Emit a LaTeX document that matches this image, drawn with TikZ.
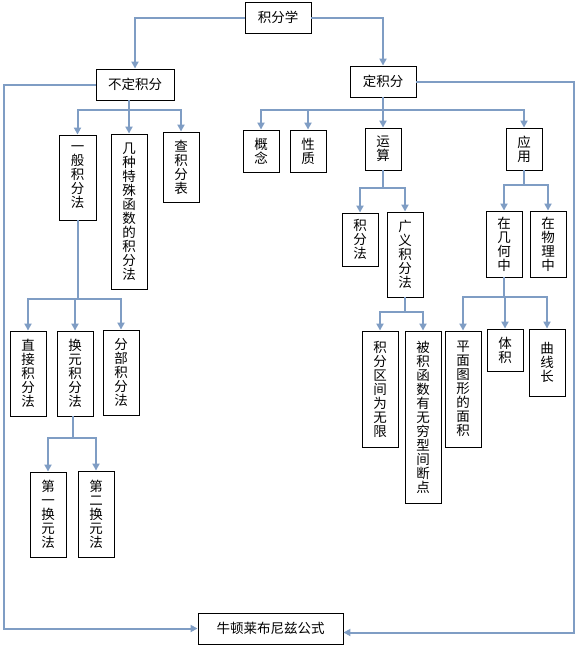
\documentclass[tikz,border=0pt]{standalone}
\usepackage{fontspec}
\setmainfont{Noto Sans CJK SC}
\usetikzlibrary{arrows.meta}
\definecolor{linec}{HTML}{7F9DC4}
\tikzset{
  box/.style={draw=black, line width=0.9pt, fill=white, inner sep=0pt, align=center,
    font=\fontsize{13.5}{14}\selectfont},
  conn/.style={draw=linec, line width=2pt, -{Triangle[length=7pt,width=7pt]}},
  plain/.style={draw=linec, line width=2pt}
}
\begin{document}
\begin{tikzpicture}[x=1pt,y=-1pt]
\useasboundingbox (0,0) rectangle (579,648);
% top
\node[box, minimum width=66pt, minimum height=31pt] (jfx) at (278,17.5) {积分学};
\node[box, minimum width=78pt, minimum height=31pt] (bdjf) at (135,84.5) {不定积分};
\node[box, minimum width=66pt, minimum height=31pt] (djf) at (383,81.5) {定积分};
\node[box, minimum width=145pt, minimum height=31pt] (nd) at (270.5,628.5) {牛顿莱布尼兹公式};
% indefinite
\node[box, minimum width=37pt, minimum height=85pt] (yb) at (77.5,177.5) {一\\般\\积\\分\\法};
\node[box, minimum width=36pt, minimum height=155pt] (jz) at (129,211.5) {几\\种\\特\\殊\\函\\数\\的\\积\\分\\法};
\node[box, minimum width=36pt, minimum height=70pt] (cb) at (181,167) {查\\积\\分\\表};
\node[box, minimum width=36pt, minimum height=85pt] (zj) at (28,373.5) {直\\接\\积\\分\\法};
\node[box, minimum width=36pt, minimum height=85pt] (hy) at (75,373.5) {换\\元\\积\\分\\法};
\node[box, minimum width=36pt, minimum height=85pt] (fb) at (121,372.5) {分\\部\\积\\分\\法};
\node[box, minimum width=36pt, minimum height=85pt] (d1) at (48,514.5) {第\\一\\换\\元\\法};
\node[box, minimum width=36pt, minimum height=86pt] (d2) at (96,514) {第\\二\\换\\元\\法};
% definite
\node[box, minimum width=36pt, minimum height=42pt] (gn) at (261,151) {概\\念};
\node[box, minimum width=36pt, minimum height=42pt] (xz) at (308,151) {性\\质};
\node[box, minimum width=36pt, minimum height=42pt] (ys) at (383,149) {运\\算};
\node[box, minimum width=36pt, minimum height=42pt] (yy) at (524,149) {应\\用};
\node[box, minimum width=36pt, minimum height=53pt] (jff) at (360,239.5) {积\\分\\法};
\node[box, minimum width=36pt, minimum height=85pt] (gy) at (405,254.5) {广\\义\\积\\分\\法};
\node[box, minimum width=36pt, minimum height=66pt] (jh) at (504,244) {在\\几\\何\\中};
\node[box, minimum width=36pt, minimum height=66pt] (wl) at (548,244) {在\\物\\理\\中};
\node[box, minimum width=36pt, minimum height=116pt] (qj) at (380,389) {积\\分\\区\\间\\为\\无\\限};
\node[box, minimum width=36pt, minimum height=172pt] (bj) at (423,417) {被\\积\\函\\数\\有\\无\\穷\\型\\间\\断\\点};
\node[box, minimum width=36pt, minimum height=116pt] (pm) at (463,389) {平\\面\\图\\形\\的\\面\\积};
\node[box, minimum width=36pt, minimum height=42pt] (tj) at (505,350) {体\\积};
\node[box, minimum width=36pt, minimum height=67pt] (qx) at (547,362.5) {曲\\线\\长};
% top connectors
\draw[conn] (jfx.west) -| (bdjf.north);
\draw[conn] (jfx.east) -| (djf.north);
% outer loops
\draw[conn] (bdjf.west) -- ++(-92,0) |- (nd.west);
\draw[conn] (djf.east) -- ++(158,0) |- ([yshift=-4pt]nd.east);
% indefinite tree
\coordinate (j1) at (129,110);
\draw[plain] (bdjf.south -| j1) -- (j1);
\draw[conn] (j1) -| (yb.north);
\draw[conn] (j1) -- (jz.north);
\draw[conn] (j1) -| (cb.north);
\coordinate (j2) at (77.5,299);
\draw[plain] (yb.south) -- (j2);
\draw[conn] (j2) -| (zj.north);
\draw[conn] (j2) -| (hy.north);
\draw[conn] (j2) -| (fb.north);
\coordinate (j3) at (73,438);
\draw[plain] (hy.south -| j3) -- (j3);
\draw[conn] (j3) -| (d1.north);
\draw[conn] (j3) -| (d2.north);
% definite tree
\coordinate (j4) at (383,110);
\draw[plain] (djf.south) -- (j4);
\draw[conn] (j4) -| (gn.north);
\draw[conn] (j4) -| (xz.north);
\draw[conn] (j4) -- (ys.north);
\draw[conn] (j4) -| (yy.north);
\coordinate (j5) at (383,188);
\draw[plain] (ys.south) -- (j5);
\draw[conn] (j5) -| (jff.north);
\draw[conn] (j5) -| (gy.north);
\coordinate (j6) at (524,185);
\draw[plain] (yy.south) -- (j6);
\draw[conn] (j6) -| (jh.north);
\draw[conn] (j6) -| (wl.north);
\coordinate (j7) at (405,312);
\draw[plain] (gy.south) -- (j7);
\draw[conn] (j7) -| (qj.north);
\draw[conn] (j7) -| (bj.north);
\coordinate (j8) at (504,297);
\draw[plain] (jh.south) -- (j8);
\draw[conn] (j8) -| (pm.north);
\draw[conn] (j8) -| (tj.north);
\draw[conn] (j8) -| (qx.north);
\end{tikzpicture}
\end{document}
